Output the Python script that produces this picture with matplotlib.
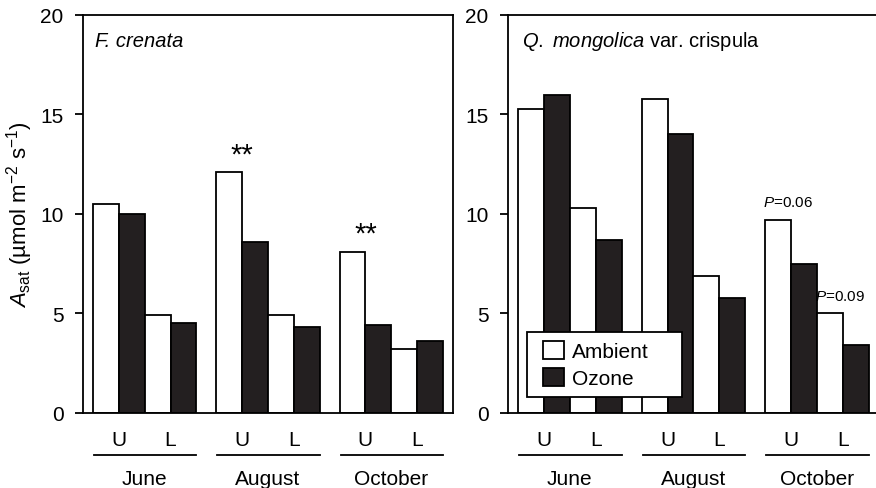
import numpy as np
import matplotlib
matplotlib.use('Agg')
import matplotlib.pyplot as plt
from matplotlib.patches import Patch, Rectangle

plt.rcParams['font.family'] = ['Liberation Sans', 'DejaVu Sans']
plt.rcParams['mathtext.fontset'] = 'custom'
plt.rcParams['mathtext.rm'] = 'Liberation Sans'
plt.rcParams['mathtext.it'] = 'Liberation Sans:italic'

months = ['June', 'August', 'October']

# F. crenata
fc_ambient_upper = [10.5, 12.1, 8.1]
fc_ozone_upper = [10.0, 8.6, 4.4]
fc_ambient_lower = [4.9, 4.9, 3.2]
fc_ozone_lower = [4.5, 4.3, 3.6]

# Q. mongolica var. crispula
qm_ambient_upper = [15.3, 15.8, 9.7]
qm_ozone_upper = [16.0, 14.0, 7.5]
qm_ambient_lower = [10.3, 6.9, 5.0]
qm_ozone_lower = [8.7, 5.8, 3.4]

# significance marks: (month index, layer, text)
fc_marks = [(1, 'U', '**'), (2, 'U', '**')]
qm_marks = [(2, 'U', 'P=0.06'), (2, 'L', 'P=0.09')]

W = 0.21
LW = 1.3
DARK = '#231f20'


def draw_panel(ax, amb_u, oz_u, amb_l, oz_l):
    x = np.arange(len(months))
    kw = dict(width=W, edgecolor='black', linewidth=LW, zorder=2)
    ax.bar(x - 1.5 * W, amb_u, color='white', **kw)
    ax.bar(x - 0.5 * W, oz_u, color=DARK, **kw)
    ax.bar(x + 0.5 * W, amb_l, color='white', **kw)
    ax.bar(x + 1.5 * W, oz_l, color=DARK, **kw)

    ax.set_xlim(-0.5, len(months) - 0.5)
    ax.set_ylim(0, 20)
    ax.set_yticks([0, 5, 10, 15, 20])
    ax.tick_params(axis='y', direction='out', length=6, width=LW,
                   labelsize=15, pad=8)

    ticks = np.concatenate([x - W, x + W])
    labels = ['U'] * len(x) + ['L'] * len(x)
    ax.set_xticks(ticks)
    ax.set_xticklabels(labels)
    ax.tick_params(axis='x', length=0, labelsize=15, pad=12)

    for s in ax.spines.values():
        s.set_linewidth(LW)

    # month brackets under the U/L labels
    trans = ax.get_xaxis_transform()
    for i, m in enumerate(months):
        ax.plot([i - 0.41, i + 0.42], [-0.105, -0.105], color='black',
                lw=LW, transform=trans, clip_on=False)
        ax.text(i, -0.178, m, transform=trans, ha='center', va='baseline',
                fontsize=15)


fig = plt.figure(figsize=(8.76, 4.89), dpi=100)
ax1 = fig.add_axes([0.0947, 0.1534, 0.4224, 0.8139])
ax2 = fig.add_axes([0.5799, 0.1534, 0.4235, 0.8139])

draw_panel(ax1, fc_ambient_upper, fc_ozone_upper, fc_ambient_lower, fc_ozone_lower)
draw_panel(ax2, qm_ambient_upper, qm_ozone_upper, qm_ambient_lower, qm_ozone_lower)

ax1.set_ylabel(r'$A_{\mathrm{sat}}$ (µmol m$^{-2}$ s$^{-1}$)', fontsize=16, labelpad=4)

ax1.text(0.032, 0.935, 'F. crenata', transform=ax1.transAxes,
         fontsize=14.5, style='italic', va='center')
ax2.text(0.038, 0.935, r'$Q.\ mongolica$ var. crispula', transform=ax2.transAxes,
         fontsize=14.5, va='center')

for i, layer, txt in fc_marks:
    h = fc_ambient_upper[i] if layer == 'U' else fc_ambient_lower[i]
    xc = i - W if layer == 'U' else i + W
    ax1.text(xc, h + 0.9, txt, ha='center', va='center', fontsize=21)

for i, layer, txt in qm_marks:
    h = qm_ambient_upper[i] if layer == 'U' else qm_ambient_lower[i]
    xl = i - 2 * W if layer == 'U' else i
    ax2.text(xl - 0.015, h + 0.9, '$P$' + txt[1:], ha='left', va='center',
             fontsize=11)

# legend box drawn separately so its width can be set freely
ax2.add_patch(Rectangle((0.051, 0.040), 0.418, 0.163, transform=ax2.transAxes,
                        facecolor='white', edgecolor='black', linewidth=LW,
                        zorder=4))
handles = [Patch(facecolor='white', edgecolor='black', linewidth=LW),
           Patch(facecolor=DARK, edgecolor='black', linewidth=LW)]
leg = ax2.legend(handles, ['Ambient', 'Ozone'], loc='upper left',
                 bbox_to_anchor=(0.095, 0.180), borderaxespad=0, borderpad=0,
                 fontsize=15, handlelength=1.0, handleheight=0.9,
                 handletextpad=0.4, labelspacing=0.35, frameon=False)
leg.set_zorder(5)

fig.savefig('out.png', dpi=100)
